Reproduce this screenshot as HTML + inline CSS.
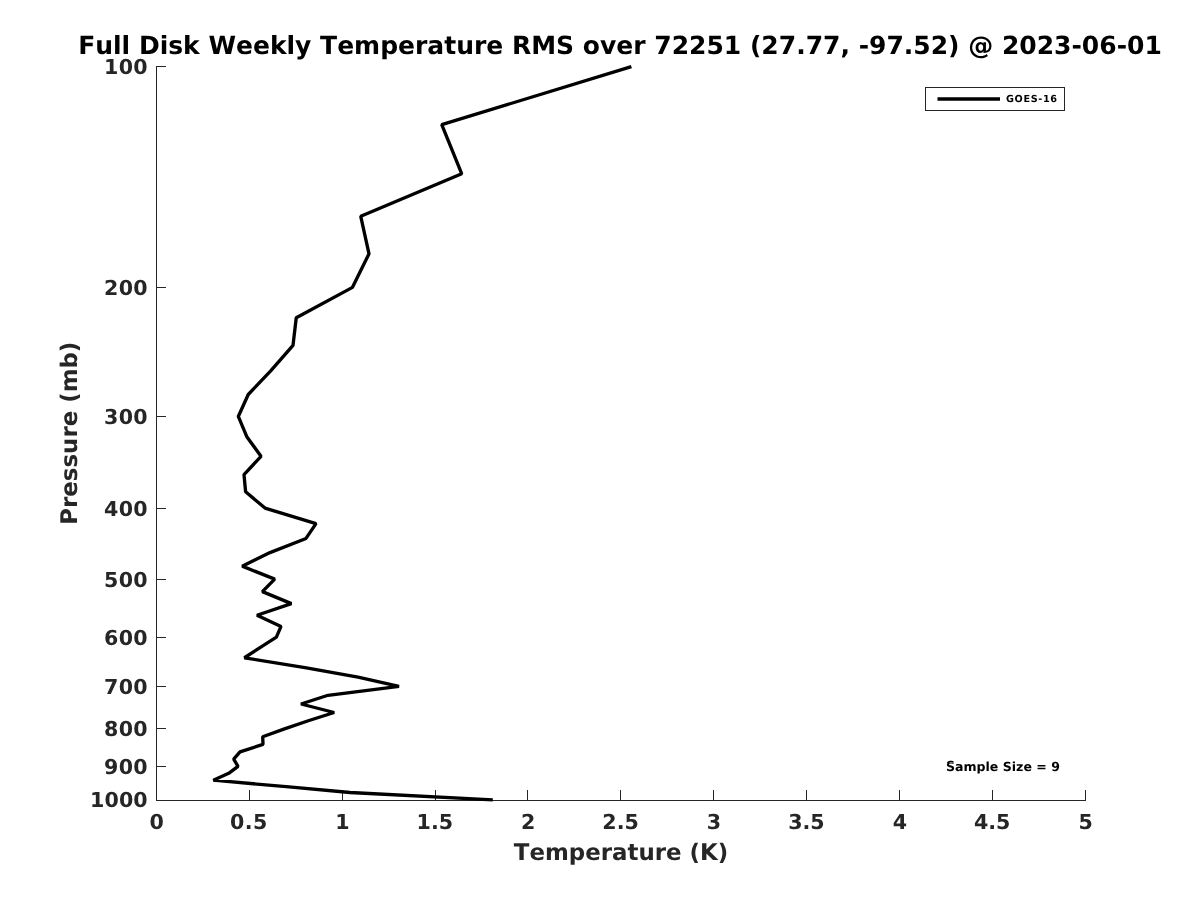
<!DOCTYPE html>
<html lang="en"><head><meta charset="utf-8"><title>Full Disk Weekly Temperature RMS</title>
<style>
html,body{margin:0;padding:0;background:#fff;}
body{width:1200px;height:900px;overflow:hidden;}
svg{display:block;}
text{font-family:"DejaVu Sans","Liberation Sans",sans-serif;font-weight:bold;text-rendering:geometricPrecision;font-kerning:none;}
.tk{font-size:20.6px;fill:#262626;letter-spacing:0.4px;}
.lb{font-size:22.9px;fill:#262626;}
.tt{font-size:25.0px;fill:#000;}
.lg{font-size:9.7px;fill:#000;letter-spacing:0.62px;}
.ss{font-size:12.55px;fill:#000;}
</style></head><body>
<svg width="1200" height="900" viewBox="0 0 1200 900">
<rect x="0" y="0" width="1200" height="900" fill="#ffffff"/>

<g stroke="#262626" stroke-width="1" fill="none" shape-rendering="crispEdges">
<line x1="156.5" y1="66.0" x2="156.5" y2="801.0"/>
<line x1="156.0" y1="800.5" x2="1086.0" y2="800.5"/>
<line x1="156.5" y1="800.5" x2="156.5" y2="790"/>
<line x1="249.5" y1="800.5" x2="249.5" y2="790"/>
<line x1="342.5" y1="800.5" x2="342.5" y2="790"/>
<line x1="435.5" y1="800.5" x2="435.5" y2="790"/>
<line x1="527.5" y1="800.5" x2="527.5" y2="790"/>
<line x1="620.5" y1="800.5" x2="620.5" y2="790"/>
<line x1="713.5" y1="800.5" x2="713.5" y2="790"/>
<line x1="806.5" y1="800.5" x2="806.5" y2="790"/>
<line x1="899.5" y1="800.5" x2="899.5" y2="790"/>
<line x1="992.5" y1="800.5" x2="992.5" y2="790"/>
<line x1="1085.5" y1="800.5" x2="1085.5" y2="790"/>
<line x1="156.5" y1="66.5" x2="166" y2="66.5"/>
<line x1="156.5" y1="287.5" x2="166" y2="287.5"/>
<line x1="156.5" y1="416.5" x2="166" y2="416.5"/>
<line x1="156.5" y1="508.5" x2="166" y2="508.5"/>
<line x1="156.5" y1="579.5" x2="166" y2="579.5"/>
<line x1="156.5" y1="637.5" x2="166" y2="637.5"/>
<line x1="156.5" y1="686.5" x2="166" y2="686.5"/>
<line x1="156.5" y1="728.5" x2="166" y2="728.5"/>
<line x1="156.5" y1="766.5" x2="166" y2="766.5"/>
</g>
<text class="tk" style="letter-spacing:0px" x="156.60" y="829.3" text-anchor="middle">0</text>
<text class="tk" style="letter-spacing:0.4px" x="248.80" y="829.3" text-anchor="middle">0.5</text>
<text class="tk" style="letter-spacing:0px" x="342.40" y="829.3" text-anchor="middle">1</text>
<text class="tk" style="letter-spacing:0px" x="434.80" y="829.3" text-anchor="middle">1.5</text>
<text class="tk" style="letter-spacing:0px" x="528.20" y="829.3" text-anchor="middle">2</text>
<text class="tk" style="letter-spacing:0px" x="620.60" y="829.3" text-anchor="middle">2.5</text>
<text class="tk" style="letter-spacing:0px" x="714.00" y="829.3" text-anchor="middle">3</text>
<text class="tk" style="letter-spacing:0px" x="806.40" y="829.3" text-anchor="middle">3.5</text>
<text class="tk" style="letter-spacing:0px" x="899.80" y="829.3" text-anchor="middle">4</text>
<text class="tk" style="letter-spacing:0px" x="992.20" y="829.3" text-anchor="middle">4.5</text>
<text class="tk" style="letter-spacing:0px" x="1085.60" y="829.3" text-anchor="middle">5</text>
<text class="tk" style="letter-spacing:0.4px" x="148.1" y="74" text-anchor="end">100</text>
<text class="tk" style="letter-spacing:0.4px" x="148.1" y="295" text-anchor="end">200</text>
<text class="tk" style="letter-spacing:0.4px" x="148.1" y="424" text-anchor="end">300</text>
<text class="tk" style="letter-spacing:0.4px" x="148.1" y="516" text-anchor="end">400</text>
<text class="tk" style="letter-spacing:0.4px" x="148.1" y="587" text-anchor="end">500</text>
<text class="tk" style="letter-spacing:0.4px" x="148.1" y="645" text-anchor="end">600</text>
<text class="tk" style="letter-spacing:0.4px" x="148.1" y="694" text-anchor="end">700</text>
<text class="tk" style="letter-spacing:0.4px" x="148.1" y="736" text-anchor="end">800</text>
<text class="tk" style="letter-spacing:0.4px" x="148.1" y="774" text-anchor="end">900</text>
<text class="tk" style="letter-spacing:0.1px" x="147.79999999999998" y="807" text-anchor="end">1000</text>
<text class="lb" x="621" y="859.6" text-anchor="middle">Temperature (K)</text>
<text class="lb" style="font-size:22.9px" transform="translate(77,433.2) rotate(-90)" text-anchor="middle">Pressure (mb)</text>
<text class="tt" x="620" y="53.8" text-anchor="middle">Full Disk Weekly Temperature RMS over 72251 (27.77, -97.52) @ 2023-06-01</text>
<polyline points="631.40,66.60 441.75,124.66 461.75,173.76 360.75,216.28 369.00,253.79 352.50,287.35 296.25,317.70 293.00,345.41 270.70,370.90 248.25,394.50 238.30,416.47 247.00,437.03 261.00,456.33 244.00,474.54 245.60,491.76 265.00,508.09 316.00,523.63 306.00,538.44 270.00,552.60 242.20,566.15 274.70,579.15 262.40,591.65 291.40,603.66 257.00,615.25 281.00,626.42 276.40,637.22 260.00,647.66 244.40,657.77 305.00,667.57 358.00,677.08 399.00,686.31 328.00,695.28 301.00,704.01 334.20,712.50 308.30,720.77 284.50,728.84 262.70,736.70 263.00,744.37 240.00,751.87 233.70,759.19 238.00,766.35 228.70,773.35 213.30,780.19 289.00,786.90 350.00,792.49 492.80,799.90" fill="none" stroke="#000" stroke-width="3.33" stroke-linejoin="bevel" stroke-linecap="butt"/>
<rect x="925.5" y="87.5" width="139" height="23" fill="#fff" stroke="#262626" stroke-width="1" shape-rendering="crispEdges"/>
<line x1="937.5" y1="99" x2="1000" y2="99" stroke="#000" stroke-width="3.33"/>
<text class="lg" x="1006" y="101.8">GOES-16</text>
<text class="ss" x="946" y="770.5" transform="rotate(0.02 946 770.5)">Sample Size = 9</text>
</svg></body></html>
